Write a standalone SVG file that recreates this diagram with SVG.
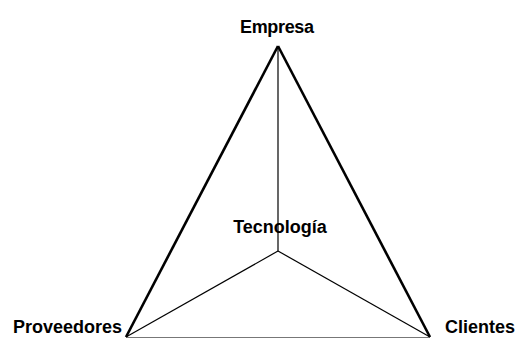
<svg xmlns="http://www.w3.org/2000/svg" width="517" height="338" viewBox="0 0 517 338">
<style>
.lbl{font-family:"Liberation Sans",Arial,sans-serif;font-weight:bold;font-size:18px;fill:#000}
.thin{stroke:#000;stroke-width:1.2;fill:none}
.thick{stroke:#000;stroke-width:2.6;fill:none;stroke-linejoin:miter}
</style>
<rect width="517" height="338" fill="#fff"/>
<g id="connectors">
<line class="thick" x1="278" y1="46" x2="126" y2="337"/>
<line class="thick" x1="278" y1="46" x2="430" y2="337"/>
<line x1="126" y1="337.5" x2="430" y2="337.5" stroke="#777" stroke-width="1"/>
<line class="thin" x1="278" y1="46" x2="278" y2="251"/>
<line class="thin" x1="278" y1="251" x2="126" y2="337"/>
<line class="thin" x1="278" y1="251" x2="430" y2="337"/>
</g>
<g id="empresa"><text class="lbl" x="277" y="33" text-anchor="middle" textLength="74">Empresa</text></g>
<g id="tecnologia"><text class="lbl" x="280" y="233" text-anchor="middle">Tecnología</text></g>
<g id="proveedores"><text class="lbl" x="13" y="333">Proveedores</text></g>
<g id="clientes"><text class="lbl" x="445" y="333">Clientes</text></g>
</svg>
